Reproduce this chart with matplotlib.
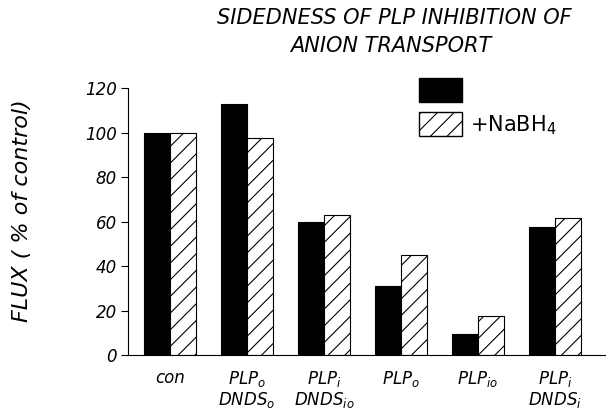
import numpy as np
import matplotlib
matplotlib.use('Agg')
import matplotlib.pyplot as plt
from matplotlib.patches import Patch

# Data
categories = ['con', 'PLP$_o$\nDNDS$_o$', 'PLP$_i$\nDNDS$_{io}$', 'PLP$_o$', 'PLP$_{io}$', 'PLP$_i$\nDNDS$_i$']
control = [100, 113, 60, 31, 9.5, 57.5]
nabh4 = [100, 97.5, 63, 45, 17.5, 61.5]
yticks = [0, 20, 40, 60, 80, 100, 120]

plt.rcParams['font.family'] = ['DejaVu Sans']
plt.rcParams['mathtext.fontset'] = 'dejavusans'
plt.rcParams['hatch.linewidth'] = 0.8

fig = plt.figure(figsize=(6.06, 4.12), dpi=100)
ax = fig.add_axes([0.211, 0.138, 0.789, 0.648])

x = np.arange(len(categories))
w = 0.34
ax.bar(x - w / 2, control, w, color='black', edgecolor='black', linewidth=0.8)
ax.bar(x + w / 2, nabh4, w, color='white', edgecolor='black', linewidth=0.8, hatch='//')

ax.set_xlim(-0.545, 5.66)
ax.set_ylim(0, 120)
ax.set_yticks(yticks)
ax.set_yticklabels([str(t) for t in yticks], fontsize=12, style='italic')
ax.tick_params(axis='y', direction='out', length=5, width=0.8, pad=3)
ax.set_xticks(x)
ax.set_xticklabels(categories, fontsize=12, style='italic', va='top', linespacing=1.05)
ax.tick_params(axis='x', length=0, pad=10)
for s in ['top', 'right']:
    ax.spines[s].set_visible(False)
ax.spines['left'].set_linewidth(0.8)
ax.spines['bottom'].set_linewidth(0.8)

ax.set_ylabel('FLUX ( % of control)', fontsize=16, style='italic')
ax.yaxis.set_label_coords(-0.2, 0.54)

fig.text(0.65, 0.957, 'SIDEDNESS OF PLP INHIBITION OF', ha='center', va='center',
         fontsize=15, style='italic')
fig.text(0.644, 0.889, 'ANION TRANSPORT', ha='center', va='center',
         fontsize=15, style='italic')

handles = [Patch(facecolor='black', edgecolor='black'),
           Patch(facecolor='white', edgecolor='black', hatch='//')]
fig.legend(handles, ['', '+NaBH$_4$'], loc='upper left', bbox_to_anchor=(0.66, 0.855),
           frameon=False, fontsize=15, handlelength=2.1, handleheight=1.35,
           labelspacing=0.5, handletextpad=0.35)

fig.savefig('out.png', dpi=100)
